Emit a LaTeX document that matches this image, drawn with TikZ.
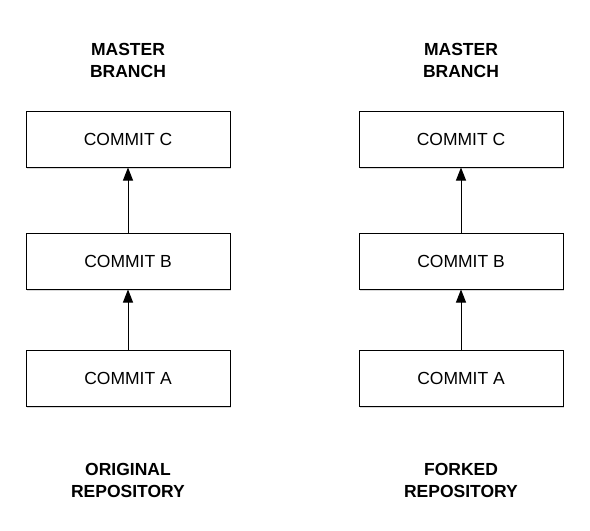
\documentclass[tikz,border=0pt]{standalone}
\usepackage{fontspec}
\setmainfont{Liberation Sans}
\usetikzlibrary{positioning,shadows,arrows.meta}

\begin{document}
\begin{tikzpicture}[x=1pt, y=-1pt,
    commit/.style={draw, line width=1pt, fill=white, minimum width=204pt, minimum height=56pt,
      font=\fontsize{17.5}{20}\selectfont, drop shadow={opacity=0.3, shadow xshift=1.2pt, shadow yshift=-1.8pt}},
    caption/.style={align=center, font=\bfseries\fontsize{17.5}{22}\selectfont},
    parent/.style={-{Triangle[length=13pt, width=10pt]}, line width=1pt}]
  \useasboundingbox (0,0) rectangle (590,531);
  % original repository
  \node[caption] (origbranch) at (128,60) {MASTER\\BRANCH};
  \node[commit] (origC) at (128,139) {COMMIT C};
  \node[commit] (origB) at (128,261) {COMMIT B};
  \node[commit] (origA) at (128,378) {COMMIT A};
  \node[caption] (origrepo) at (128,480) {ORIGINAL\\REPOSITORY};
  \draw[parent] (origA) -- (origB);
  \draw[parent] (origB) -- (origC);
  % forked repository
  \node[caption] (forkbranch) at (461,60) {MASTER\\BRANCH};
  \node[commit] (forkC) at (461,139) {COMMIT C};
  \node[commit] (forkB) at (461,261) {COMMIT B};
  \node[commit] (forkA) at (461,378) {COMMIT A};
  \node[caption] (forkrepo) at (461,480) {FORKED\\REPOSITORY};
  \draw[parent] (forkA) -- (forkB);
  \draw[parent] (forkB) -- (forkC);
\end{tikzpicture}
\end{document}
